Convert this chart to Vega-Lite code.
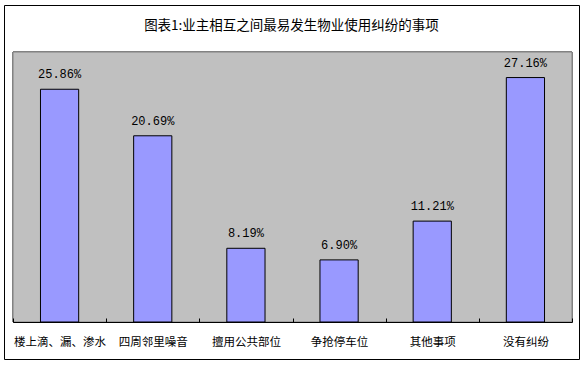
{
  "$schema": "https://vega.github.io/schema/vega-lite/v6.json",
  "width": 575,
  "height": 354,
  "autosize": {"type": "none"},
  "padding": {"left": 4, "top": 5, "right": 6, "bottom": 7},
  "background": "white",
  "config": {
    "view": {"stroke": "black", "strokeWidth": 1, "fill": "white"},
    "font": "Noto Sans CJK SC"
  },
  "title": {
    "text": "图表1:业主相互之间最易发生物业使用纠纷的事项",
    "font": "Noto Sans CJK SC",
    "fontSize": 13.5,
    "fontWeight": "normal",
    "color": "black",
    "anchor": "middle",
    "baseline": "middle",
    "offset": -34
  },
  "data": {
    "values": [
      {"item": "楼上滴、漏、渗水", "value": 0.2586},
      {"item": "四周邻里噪音", "value": 0.2069},
      {"item": "擅用公共部位", "value": 0.0819},
      {"item": "争抢停车位", "value": 0.069},
      {"item": "其他事项", "value": 0.1121},
      {"item": "没有纠纷", "value": 0.2716}
    ]
  },
  "resolve": {"scale": {"x": "independent"}, "axis": {"x": "independent"}},
  "layer": [
    {
      "mark": {"type": "rect", "fill": "#C0C0C0", "stroke": "#808080", "strokeWidth": 1},
      "encoding": {
        "x": {"datum": 0, "type": "quantitative", "scale": {"domain": [0, 6], "range": [9, 568], "nice": false}, "axis": null},
        "x2": {"datum": 6},
        "y": {"datum": 0.30, "type": "quantitative", "scale": {"domain": [0, 0.30], "range": [317, 47], "nice": false, "zero": true}, "axis": null},
        "y2": {"datum": 0}
      }
    },
    {
      "mark": {"type": "bar", "fill": "#9999FF", "stroke": "black", "strokeWidth": 1, "width": {"band": 0.41}},
      "encoding": {
        "x": {
          "field": "item",
          "type": "nominal",
          "sort": null,
          "scale": {"range": [9, 568], "paddingInner": 0, "paddingOuter": 0},
          "axis": {
            "title": null,
            "orient": "bottom",
            "offset": -37,
            "zindex": 1,
            "domainColor": "black",
            "domainWidth": 1,
            "tickBand": "extent",
            "tickSize": -4,
            "tickColor": "black",
            "labelAngle": 0,
            "labelFont": "Noto Sans CJK SC",
            "labelFontSize": 11.5,
            "labelColor": "black",
            "labelPadding": 18,
            "labelLimit": 0
          }
        },
        "y": {"field": "value", "type": "quantitative", "axis": null}
      }
    },
    {
      "mark": {"type": "text", "baseline": "bottom", "dy": -8, "font": "Liberation Mono", "fontSize": 12, "color": "black"},
      "encoding": {
        "x": {
          "field": "item",
          "type": "nominal",
          "sort": null,
          "scale": {"range": [9, 568], "paddingInner": 0, "paddingOuter": 0},
          "axis": null
        },
        "y": {"field": "value", "type": "quantitative", "axis": null},
        "text": {"field": "value", "type": "quantitative", "format": ".2%"}
      }
    }
  ]
}
